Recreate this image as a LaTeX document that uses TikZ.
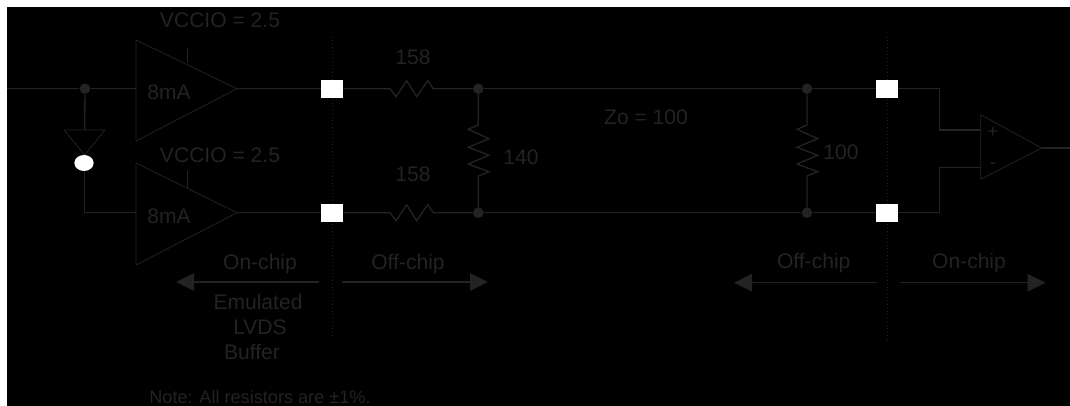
\documentclass[tikz,border=0pt]{standalone}
\usepackage{fontspec}
\setmainfont{Liberation Sans}
\usepackage{tikz}
\usetikzlibrary{matrix}
\usetikzlibrary{arrows.meta}
\usetikzlibrary{shapes.geometric}
\definecolor{ink}{HTML}{242222}

\begin{document}
\begin{tikzpicture}[x=.75pt,y=-.75pt,>=stealth,
	wire/.style={draw=ink,line width=1pt},
	thin wire/.style={draw=ink,line width=.6pt},
	boundary/.style={draw=ink,line width=.6pt,dotted},
	lbl/.style={text=ink,font=\fontsize{15.8}{18}\selectfont,inner sep=0pt},
	small lbl/.style={text=ink,font=\fontsize{13.6}{16}\selectfont,inner sep=0pt},
	dot/.style={circle,fill=ink,minimum size=8pt,inner sep=0pt},
	span/.style={draw=ink,line width=1.1pt,-{Triangle[length=13.5pt,width=13pt]}},
	hres/.style={to path={-- ++(6,8) -- ++(10.7,-16) -- ++(10,16) -- ++(11,-16) -- (\tikztotarget)}},
	vres/.style={to path={-- ++(-10,4.3) -- ++(20.7,9.4) -- ++(-20.7,8.6) -- ++(20.7,8) -- ++(-20.7,8.7) -- ++(20.7,7.7) -- (\tikztotarget)}}
	]
	\useasboundingbox (0,0) rectangle (1070,406);
	\fill[white] (0,0) rectangle (1070,406);
	\fill[black] (7,7) rectangle (1070,406);

	\coordinate (edge1top) at (332,37);
	\coordinate (edge1bot) at (332,337);
	\coordinate (edge2top) at (887,37);
	\coordinate (edge2bot) at (887,340);
	\draw[boundary] (edge1top) -- (edge1bot);
	\draw[boundary] (edge2top) -- (edge2bot);

	\matrix (pads) at (609.5,150.7) [%
	matrix of nodes,
	nodes in empty cells,
	inner sep=0pt,
	nodes={fill=white,minimum width=16.5pt,minimum height=13.5pt,inner sep=0pt},
	column sep=399.75pt,
	row sep=79.5pt,ampersand replacement=\&
	]
	{
		\& \\
		\& \\
	};

	% buffers
	\coordinate (ampAin) at (136,88.7);
	\coordinate (ampAout) at (237,88.7);
	\coordinate (ampBin) at (136,212.7);
	\coordinate (ampBout) at (237,212.7);
	\draw[thin wire] (136,40) -- (136,141) -- (ampAout) -- cycle;
	\draw[thin wire] (136,163) -- (136,265) -- (ampBout) -- cycle;
	\coordinate (stubAtop) at (187,48);
	\coordinate (stubAbot) at (187,63);
	\coordinate (stubBtop) at (187,171);
	\coordinate (stubBbot) at (187,188);
	\draw[thin wire] (stubAtop) -- (stubAbot);
	\draw[thin wire] (stubBtop) -- (stubBbot);
	\node[lbl] (vccA) at (220,20) {VCCIO = 2.5};
	\node[lbl] (vccB) at (220,155) {VCCIO = 2.5};
	\node[lbl] (ampAlbl) at (169,92) {8mA};
	\node[lbl] (ampBlbl) at (169,216) {8mA};

	% inverter
	\coordinate (invtop) at (84.7,130);
	\draw[thin wire] (64,130) -- (105,130) -- (84.7,155) -- cycle;
	\node[ellipse,fill=white,minimum width=14.5pt,minimum height=12pt,inner sep=0pt] (bubble) at (84,163) {};

	\coordinate (input) at (7,88.7);
	\node[dot] (dotin) at (85,88.7) {};
	\draw[wire] (input) -- (dotin) -- (ampAin);
	\draw[wire] (dotin) -- (invtop);
	\draw[wire] (bubble.south -| invtop) |- (ampBin);
	\draw[wire] (ampAout) -- (pads-1-1);
	\draw[wire] (ampBout) -- (pads-2-1);

	% termination
	\node[dot] (dotA) at (478.3,88.7) {};
	\node[dot] (dotB) at (478.3,212.7) {};
	\node[dot] (dotC) at (807,88.7) {};
	\node[dot] (dotD) at (807,212.7) {};
	\coordinate (rAa) at (390,88.7);
	\coordinate (rAb) at (433.3,88.7);
	\coordinate (rBa) at (390,212.7);
	\coordinate (rBb) at (433.3,212.7);
	\draw[wire] (pads-1-1) -- (rAa) to[hres] (rAb) -- (dotA);
	\draw[wire] (pads-2-1) -- (rBa) to[hres] (rBb) -- (dotB);
	\coordinate (rCa) at (478.3,125);
	\coordinate (rCb) at (478.3,176);
	\coordinate (rDa) at (807,125);
	\coordinate (rDb) at (807,176);
	\draw[wire] (dotA) -- (rCa) to[vres] (rCb) -- (dotB);
	\draw[wire] (dotC) -- (rDa) to[vres] (rDb) -- (dotD);
	\draw[wire] (dotA) -- (dotC) -- (pads-1-2);
	\draw[wire] (dotB) -- (dotD) -- (pads-2-2);
	\node[lbl] (rAlbl) at (413,57) {158};
	\node[lbl] (rBlbl) at (413,174) {158};
	\node[lbl] (rClbl) at (521,157) {140};
	\node[lbl] (rDlbl) at (841,152) {100};
	\node[lbl] (zo) at (646,117) {Zo = 100};

	% receiver
	\coordinate (rxP) at (980.7,130);
	\coordinate (rxN) at (980.7,167.3);
	\coordinate (rxout) at (1041.7,148);
	\coordinate (output) at (1070,148);
	\coordinate (bendP) at (939.3,88.7);
	\coordinate (bendN) at (939.3,212.7);
	\draw[thin wire] (980.7,114.7) -- (980.7,179.3) -- (rxout) -- cycle;
	\draw[wire] (pads-1-2) -- (bendP) |- (rxP);
	\draw[wire] (pads-2-2) -- (bendN) |- (rxN);
	\draw[wire] (rxout) -- (output);
	\node[small lbl] (plus) at (993,132) {+};
	\node[small lbl] (minus) at (993,166) {-};

	% spans
	\coordinate (sA) at (319,282);
	\coordinate (sAtip) at (176,282);
	\coordinate (sB) at (342,282);
	\coordinate (sBtip) at (488,282);
	\coordinate (sC) at (876.7,282.7);
	\coordinate (sCtip) at (734,282.7);
	\coordinate (sD) at (900,282.7);
	\coordinate (sDtip) at (1045.7,282.7);
	\draw[span] (sA) -- (sAtip);
	\draw[span] (sB) -- (sBtip);
	\draw[span] (sC) -- (sCtip);
	\draw[span] (sD) -- (sDtip);
	\node[lbl] (onA) at (260,264) {On-chip};
	\node[lbl] (offA) at (408,264) {Off-chip};
	\node[lbl] (offB) at (813.7,263) {Off-chip};
	\node[lbl] (onB) at (969,263) {On-chip};
	\node[lbl] (emu) at (258,302) {Emulated};
	\node[lbl] (lvds) at (260,327) {LVDS};
	\node[lbl] (buf) at (252,352) {Buffer};
	\node[small lbl] (note) at (260,397.5) {Note: All resistors are ±1\%.};
\end{tikzpicture}
\end{document}
